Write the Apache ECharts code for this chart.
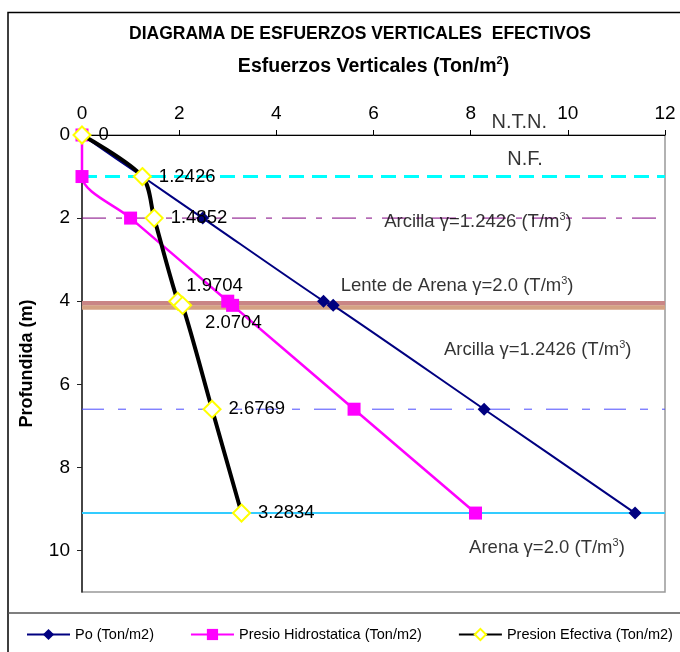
<!DOCTYPE html>
<html><head><meta charset="utf-8">
<script src="https://cdn.jsdelivr.net/npm/echarts@6/dist/echarts.min.js"></script>
<style>html,body{margin:0;padding:0;background:#fff}#c{width:680px;height:652px}</style>
</head><body><div id="c"></div>
<script>
// ---- data ----
var depths      = [0, 1, 2, 4, 4.1, 6.6, 9.1];
var po          = [0, 1.2426, 2.4852, 4.9704, 5.1704, 8.2769, 11.3834];
var hidro       = [0, 0, 1, 3, 3.1, 5.6, 8.1];
var efectiva    = [0, 1.2426, 1.4852, 1.9704, 2.0704, 2.6769, 3.2834];
var seriesNames = ['Po (Ton/m2)', 'Presio Hidrostatica (Ton/m2)', 'Presion Efectiva (Ton/m2)'];
var xTicks      = [0, 2, 4, 6, 8, 10, 12];
var yTicks      = [0, 2, 4, 6, 8, 10];
var refDepths   = [1, 2, 4.05, 4.15, 6.6, 9.1];
var annoTexts   = [
  ['N.T.N.', '', ''],
  ['N.F.', '', ''],
  ['Arcilla γ=1.2426 (T/m', '3', ')'],
  ['Lente de Arena γ=2.0 (T/m', '3', ')'],
  ['Arcilla γ=1.2426 (T/m', '3', ')'],
  ['Arena γ=2.0 (T/m', '3', ')']
];
var annoX = [9.0, 9.12, 8.15, 7.72, 9.38, 9.57];
var annoY = [-0.3, 0.58, 2.1, 3.64, 5.18, 9.93];

// ---- styles ----
var FONT = 'Arial, "Liberation Sans", sans-serif';
var refStyles = [
  {color:'#00FFFF', width:3, type:[15,8]},
  {color:'#800080', width:1, type:[24,10,6,10]},
  {color:'#C98585', width:4.5, type:'solid'},
  {color:'#D4A283', width:4.5, type:'solid'},
  {color:'#4A4AFF', width:1, type:[22,14,8,14]},
  {color:'#33CCFF', width:2, type:'solid'}
];
var labelOffsets = {3:[-8,-15], 4:[6,18]};

function pairs(xs){ return xs.map(function(v,i){ return [v, depths[i]]; }); }

var series = [];
refDepths.forEach(function(d,i){
  series.push({
    type:'line', silent:true, symbol:'none', z:1,
    data:[[xTicks[0], d],[xTicks[xTicks.length-1], d]],
    lineStyle:refStyles[i]
  });
});
series.push({
  name:seriesNames[0], type:'line', smooth:0.3, z:3,
  data:pairs(po), symbol:'diamond', symbolSize:13,
  itemStyle:{color:'#000080'}, lineStyle:{color:'#000080', width:2}
});
series.push({
  name:seriesNames[1], type:'line', smooth:0.3, z:4,
  data:pairs(hidro), symbol:'rect', symbolSize:13,
  itemStyle:{color:'#FF00FF'}, lineStyle:{color:'#FF00FF', width:2.5}
});
series.push({
  name:seriesNames[2], type:'line', smooth:0.3, z:5,
  data:pairs(efectiva).map(function(p,i){
    var o = {value:p};
    if (labelOffsets[i]) o.label = {offset:labelOffsets[i]};
    return o;
  }),
  symbol:'diamond', symbolSize:17,
  itemStyle:{color:'#FFFFFF', borderColor:'#FFFF00', borderWidth:2},
  lineStyle:{color:'#000000', width:4},
  label:{show:true, position:'right', distance:7, color:'#000', fontSize:18.5, fontFamily:FONT,
    formatter:function(p){ return String(p.value[0]); }}
});
series.push({
  type:'scatter', silent:true, clip:false, z:6, symbolSize:0,
  data:annoTexts.map(function(t,i){ return {value:[annoX[i], annoY[i]], name:String(i)}; }),
  label:{show:true, position:'inside', color:'#000', fontFamily:FONT,
    formatter:function(p){
      var t = annoTexts[+p.name];
      if (!t[1]) return '{b|' + t[0] + '}';
      return '{a|' + t[0] + '}{s|' + t[1] + '}{a|' + t[2] + '}';
    },
    rich:{
      a:{fontSize:18.5, fontFamily:FONT, color:'#000'},
      b:{fontSize:20, fontFamily:FONT, color:'#000'},
      s:{fontSize:11, fontFamily:FONT, color:'#000', verticalAlign:'top', padding:[0,0,10,0]}
    }
  }
});

var chart = echarts.init(document.getElementById('c'), null, {renderer:'canvas'});
chart.setOption({
  animation:false,
  backgroundColor:'#fff',
  title:{
    text:'DIAGRAMA DE ESFUERZOS VERTICALES  EFECTIVOS',
    left:355, top:20, textAlign:'center',
    textStyle:{fontSize:17.5, fontWeight:'bold', fontFamily:FONT, color:'#000'}
  },
  graphic:[
    {type:'polyline', shape:{points:[[8,652],[8,12.5],[680,12.5]]}, style:{stroke:'#000', lineWidth:1.5, fill:null}},
    {type:'line', shape:{x1:8, y1:613, x2:680, y2:613}, style:{stroke:'#555', lineWidth:1.5}}
  ],
  grid:{left:82, right:15, top:135, bottom:60, show:true, borderColor:'#999', borderWidth:1.5, backgroundColor:'transparent'},
  legend:{
    data:seriesNames, left:26, top:627, width:670, itemWidth:43, itemHeight:14, itemGap:36, padding:0,
    textStyle:{fontSize:14.5, fontFamily:FONT, color:'#000'}
  },
  xAxis:{
    type:'value', position:'top', min:xTicks[0], max:xTicks[xTicks.length-1], interval:xTicks[1]-xTicks[0],
    name:'{a|Esfuerzos Verticales (Ton/m}{s|2}{a|)}', nameLocation:'middle', nameGap:57,
    nameTextStyle:{rich:{
      a:{fontSize:19.5, fontWeight:'bold', fontFamily:FONT, color:'#000'},
      s:{fontSize:11, fontWeight:'bold', fontFamily:FONT, color:'#000', verticalAlign:'top', padding:[0,0,12,0]}
    }},
    axisLine:{show:true, lineStyle:{color:'#000', width:1}},
    axisTick:{show:true, length:5, lineStyle:{color:'#000'}},
    axisLabel:{fontSize:19, fontFamily:FONT, color:'#000', margin:12},
    splitLine:{show:false}
  },
  yAxis:{
    type:'value', inverse:true, min:0, max:11, interval:yTicks[1]-yTicks[0],
    name:'Profundida (m)', nameLocation:'middle', nameGap:46,
    nameTextStyle:{fontSize:18, fontWeight:'bold', fontFamily:FONT, color:'#000'},
    axisLine:{show:true, lineStyle:{color:'#222', width:1.5}},
    axisTick:{show:true, length:5, lineStyle:{color:'#222'}},
    axisLabel:{fontSize:19, fontFamily:FONT, color:'#000', margin:12, showMaxLabel:false,
      formatter:function(v){ return yTicks.indexOf(v) >= 0 ? String(v) : ''; }},
    splitLine:{show:false}
  },
  series:series
});
</script></body></html>
